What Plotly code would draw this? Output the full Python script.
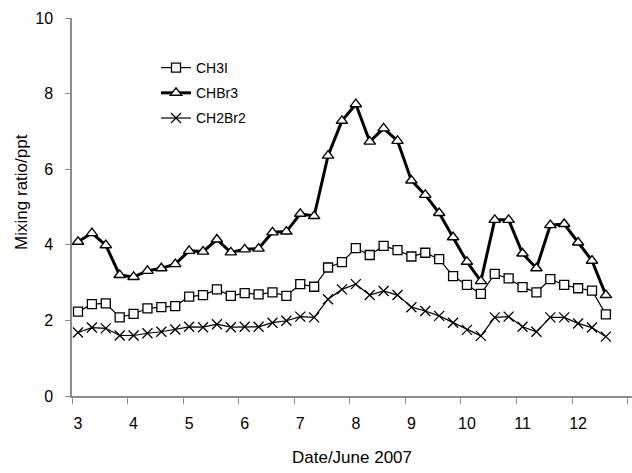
import plotly.graph_objects as go

# Date (day of June 2007), every 6 hours
day_start = 3.0
step = 0.25
n_points = 39
dates = [day_start + step * i for i in range(n_points)]

ch3i = [2.23, 2.43, 2.45, 2.08, 2.17, 2.32, 2.35, 2.38, 2.63, 2.67,
        2.82, 2.65, 2.72, 2.69, 2.74, 2.65, 2.96, 2.89, 3.40, 3.54,
        3.91, 3.73, 3.97, 3.86, 3.69, 3.79, 3.62, 3.17, 2.94, 2.70,
        3.23, 3.11, 2.88, 2.74, 3.09, 2.94, 2.85, 2.79, 2.16]

chbr3 = [4.08, 4.31, 3.99, 3.20, 3.15, 3.31, 3.38, 3.49, 3.84, 3.82,
         4.14, 3.80, 3.88, 3.90, 4.33, 4.35, 4.82, 4.76, 6.36, 7.28,
         7.72, 6.73, 7.08, 6.75, 5.70, 5.32, 4.84, 4.20, 3.55, 3.04,
         4.66, 4.66, 3.77, 3.38, 4.52, 4.55, 4.06, 3.58, 2.67]

ch2br2 = [1.68, 1.81, 1.79, 1.60, 1.60, 1.66, 1.70, 1.76, 1.83, 1.82,
          1.90, 1.82, 1.83, 1.83, 1.94, 1.99, 2.10, 2.08, 2.56, 2.82,
          2.96, 2.67, 2.78, 2.67, 2.35, 2.25, 2.12, 1.94, 1.75, 1.59,
          2.08, 2.10, 1.83, 1.70, 2.08, 2.08, 1.92, 1.81, 1.57]

x_tick_vals = [3, 4, 5, 6, 7, 8, 9, 10, 11, 12]
x_tick_text = [str(v) for v in x_tick_vals]
y_tick_vals = [0, 2, 4, 6, 8, 10]

FONT = "Liberation Sans, Arial, sans-serif"
AXIS_GRAY = "#8c8c8c"

fig = go.Figure()
fig.add_trace(go.Scatter(
    x=dates, y=ch3i, name="CH3I", mode="lines+markers", legendgroup="a",
    line=dict(color="black", width=1.2),
    marker=dict(symbol="square", size=9, color="white",
                line=dict(color="black", width=1.3)),
))
fig.add_trace(go.Scatter(
    x=dates, y=chbr3, name="CHBr3", mode="lines+markers", legendgroup="b",
    line=dict(color="black", width=3),
    marker=dict(symbol="triangle-up", size=10, color="white",
                line=dict(color="black", width=1.4)),
))
fig.add_trace(go.Scatter(
    x=dates, y=ch2br2, name="CH2Br2", mode="lines+markers", legendgroup="c",
    line=dict(color="black", width=1.2),
    marker=dict(symbol="x-thin", size=10, color="black",
                line=dict(color="black", width=1.3)),
))

tick_offset = 0.108
minor_vals = [v - tick_offset for v in x_tick_vals] + [x_tick_vals[-1] + 1 - tick_offset]

fig.update_layout(
    width=632, height=473,
    margin=dict(l=72, r=0, t=18, b=77),
    paper_bgcolor="white", plot_bgcolor="white",
    font=dict(family=FONT, size=16, color="black"),
    showlegend=True,
    legend=dict(x=0.150, y=0.910, xanchor="left", yanchor="top",
                bgcolor="rgba(0,0,0,0)", font=dict(size=14, family=FONT),
                tracegroupgap=4, itemwidth=30),
    xaxis=dict(
        range=[x_tick_vals[0] - tick_offset, 12.97], showgrid=False, zeroline=False,
        showline=True, linecolor=AXIS_GRAY, linewidth=1.5,
        tickmode="array", tickvals=x_tick_vals, ticktext=x_tick_text,
        ticks="", ticklabelstandoff=12,
        minor=dict(tickmode="array", tickvals=minor_vals,
                   ticks="outside", ticklen=6, tickcolor=AXIS_GRAY, tickwidth=1,
                   showgrid=False),
        title=dict(text="Date/June 2007", standoff=20, font=dict(size=17)),
        tickfont=dict(size=16),
    ),
    yaxis=dict(
        range=[0, 10], showgrid=False, zeroline=False,
        showline=True, linecolor=AXIS_GRAY, linewidth=1.5,
        tickmode="array", tickvals=y_tick_vals,
        ticks="outside", ticklen=5, tickcolor=AXIS_GRAY, tickwidth=1,
        ticklabelstandoff=9,
        tickfont=dict(size=16),
    ),
    annotations=[dict(text="Mixing ratio/ppt", x=0, xref="paper", xanchor="center",
                      xshift=-50, y=0.54, yref="paper", showarrow=False,
                      textangle=-90, font=dict(size=17))],
)

fig.write_html("out.html", config={"displayModeBar": False},
               post_script="document.body.style.margin='0px';")
